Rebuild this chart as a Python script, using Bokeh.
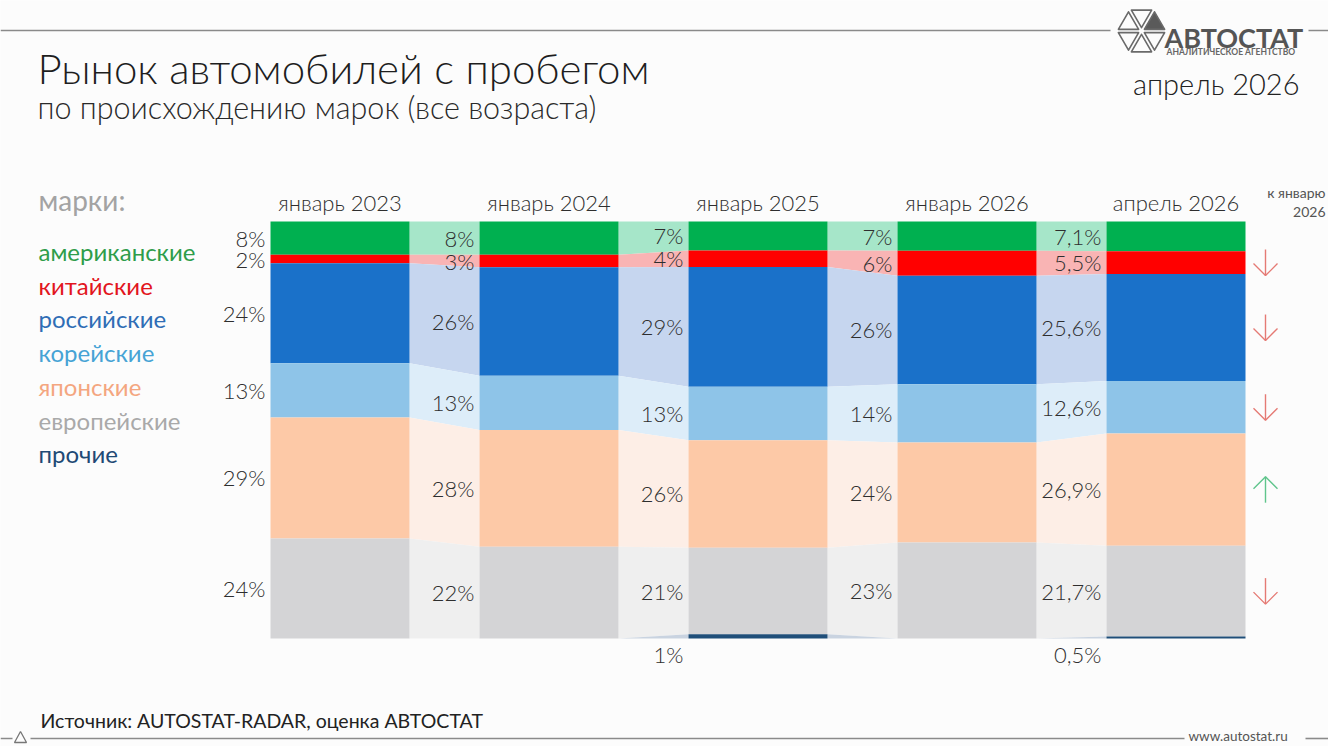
from bokeh.plotting import figure
from bokeh.models import ColumnDataSource, Range1d
from bokeh.embed import file_html
from bokeh.resources import INLINE
from bokeh.core.properties import value

# ---------------- data ----------------
periods = ["январь 2023", "январь 2024", "январь 2025", "январь 2026", "апрель 2026"]
brands = ["американские", "китайские", "российские", "корейские",
          "японские", "европейские", "прочие"]
american = [8, 8, 7, 7, 7.1]
chinese = [2, 3, 4, 6, 5.5]
russian = [24, 26, 29, 26, 25.6]
korean = [13, 13, 13, 14, 12.6]
japanese = [29, 28, 26, 24, 26.9]
european = [24, 22, 21, 23, 21.7]
others = [0, 0, 1, 0, 0.5]
# change of апрель 2026 vs январь 2026 shown with arrows
trend = [None, "down", "down", "down", "up", "down", None]

series = [american, chinese, russian, korean, japanese, european, others]

# ---------------- styles ----------------
bar_colors = ["#00b050", "#ff0000", "#1a71c9", "#8ec4e8", "#fdc9a7", "#d4d4d6", "#1f4e79"]
band_colors = ["#a6e6c9", "#f9b4b4", "#c6d6ef", "#ddedf9", "#fdeee6", "#efefef", "#c9d3e0"]
legend_colors = ["#2e9d4a", "#e2151d", "#2f6db5", "#46a3d5", "#f4a680", "#a9a9a9", "#1f4a75"]
FONT = value("Lato")
LIGHT = value("Lato Light")
TXT = "#333333"

W, H = 1328, 746
PX_X = 209.0          # pixels per bar step
PX_Y = 4.17           # pixels per percent
BAR_W = 139 / PX_X
X_START = -339.5 / PX_X
X_END = X_START + W / PX_X
Y_TOP = 100 + 221 / PX_Y
Y_BOT = Y_TOP - H / PX_Y


def fx(px):
    return X_START + px / PX_X


def fy(py):
    return Y_TOP - py / PX_Y


p = figure(width=W, height=H, output_backend="svg", toolbar_location=None,
           x_range=Range1d(X_START, X_END), y_range=Range1d(Y_BOT, Y_TOP),
           min_border=0, outline_line_color=None,
           background_fill_color="#fcfcfc", border_fill_color="#fcfcfc")
p.axis.visible = False
p.grid.visible = False

n = len(periods)
xs_idx = list(range(n))
totals = [sum(s[i] for s in series) for i in range(n)]

# stacked from the top: american first
tops, bots = [], []
cum = [100.0] * n
for s in series:
    t = list(cum)
    b = [cum[i] - s[i] * 100.0 / totals[i] for i in range(n)]
    tops.append(t)
    bots.append(b)
    cum = b

# connecting bands
for k, s in enumerate(series):
    bx, by = [], []
    for i in range(n - 1):
        xr = i + BAR_W / 2
        xl = i + 1 - BAR_W / 2
        bx.append([xr, xl, xl, xr])
        by.append([tops[k][i], tops[k][i + 1], bots[k][i + 1], bots[k][i]])
    p.patches(bx, by, fill_color=band_colors[k], line_color=None)

# bars
for k, s in enumerate(series):
    src = ColumnDataSource(dict(x=xs_idx, top=tops[k], bottom=bots[k]))
    p.vbar(x="x", width=BAR_W, top="top", bottom="bottom", source=src,
           fill_color=bar_colors[k], line_color=None)


def fmt(v):
    return (("%g" % v).replace(".", ",")) + "%"


# value labels, right-aligned at the left edge of each bar
lx, ly, lt = [], [], []
for k, s in enumerate(series[:-1]):
    for i in range(n):
        lx.append(i - BAR_W / 2)
        ly.append((tops[k][i] + bots[k][i]) / 2)
        lt.append(fmt(s[i]))
for i in range(n):
    if others[i] > 0:
        lx.append(i - BAR_W / 2)
        ly.append(bots[-1][i] - 16 / PX_Y)
        lt.append(fmt(others[i]))
p.text(x=lx, y=ly, text=lt, text_font=LIGHT, text_font_size="22px",
       text_align="right", text_baseline="middle", text_color="#2e2e2e", x_offset=-5)

# period headers
p.text(x=xs_idx, y=[fy(202)] * n, text=periods, text_font=LIGHT,
       text_font_size="22px", text_align="center", text_baseline="middle",
       text_color="#2e2e2e")

# trend arrows
ax = n - 1 + BAR_W / 2 + 20 / PX_X
half = 13 / PX_Y
hw = 12 / PX_X
hl = 12 / PX_Y
for k, tr in enumerate(trend):
    if tr is None:
        continue
    mid = (tops[k][-1] + bots[k][-1]) / 2
    if tr == "down":
        tip, col, d = mid - half, "#e57a74", 1
    else:
        tip, col, d = mid + half, "#5fc58c", -1
    p.multi_line([[ax, ax], [ax - hw, ax, ax + hw]],
                 [[mid - half, mid + half], [tip + d * hl, tip, tip + d * hl]],
                 line_color=col, line_width=1.4)

p.text(x=[fx(1325), fx(1325)], y=[fy(192), fy(211)], text=["к январю", "2026"],
       text_font=FONT, text_font_size="14px", text_align="right",
       text_baseline="middle", text_color="#555555")

# legend
p.text(x=[fx(38)], y=[fy(199)], text=["марки:"], text_font=FONT,
       text_font_size="28px", text_baseline="middle", text_color="#a3a3a3")
p.text(x=[fx(38)] * len(brands), y=[fy(251 + 33.7 * k) for k in range(len(brands))],
       text=brands, text_font=FONT, text_font_size="24px", text_baseline="middle",
       text_color=legend_colors)

# titles
p.text(x=[fx(37)], y=[fy(67)], text=["Рынок автомобилей с пробегом"], text_font=LIGHT,
       text_font_size="42px", text_baseline="middle", text_color="#1e1e1e")
p.text(x=[fx(37)], y=[fy(106)], text=["по происхождению марок (все возраста)"],
       text_font=LIGHT, text_font_size="30.5px", text_baseline="middle",
       text_color="#2a2a2a")
p.text(x=[fx(1299)], y=[fy(83)], text=["апрель 2026"], text_font=LIGHT,
       text_font_size="29px", text_align="right", text_baseline="middle",
       text_color="#222222")

# header / footer rules
p.segment(x0=[fx(0), fx(1308)], y0=[fy(30), fy(30)], x1=[fx(1110), fx(1328)],
          y1=[fy(30), fy(30)], line_color="#8a8a8a", line_width=1.6)
p.segment(x0=[fx(0), fx(30), fx(1305)], y0=[fy(738)] * 3,
          x1=[fx(12), fx(1184), fx(1328)], y1=[fy(738)] * 3,
          line_color="#8a8a8a", line_width=1.6)
p.patches([[fx(14), fx(26), fx(20)]], [[fy(742), fy(742), fy(731)]],
          fill_color=None, line_color="#777777", line_width=1.3)

# logo
cx, cy, r = 1141.0, 30.5, 26.0
hh = r * 0.866
tri_px = [
    [(cx - r, cy), (cx - r / 2, cy - hh), (cx, cy)],
    [(cx - r / 2, cy - hh), (cx + r / 2, cy - hh), (cx, cy)],
    [(cx, cy), (cx + r / 2, cy - hh), (cx + r, cy)],
    [(cx - r, cy), (cx - r / 2, cy + hh), (cx, cy)],
    [(cx - r / 2, cy + hh), (cx + r / 2, cy + hh), (cx, cy)],
    [(cx, cy), (cx + r / 2, cy + hh), (cx + r, cy)],
]
lxs, lys, fills = [], [], []
for j, tri in enumerate(tri_px):
    gx = sum(t[0] for t in tri) / 3
    gy = sum(t[1] for t in tri) / 3
    lxs.append([fx(gx + (t[0] - gx) * 0.78) for t in tri])
    lys.append([fy(gy + (t[1] - gy) * 0.78) for t in tri])
    fills.append("#5a5a5a" if j == 2 else "#fcfcfc")
p.patches(lxs, lys, fill_color=fills,
          line_color="#6a6a6a", line_width=1.6, line_join="round")
p.text(x=[fx(1164)], y=[fy(37)], text=["АВТОСТАТ"], text_font=FONT,
       text_font_size="27px", text_font_style="bold", text_baseline="middle",
       text_color="#555555")
p.text(x=[fx(1166)], y=[fy(51)], text=["АНАЛИТИЧЕСКОЕ АГЕНТСТВО"], text_font=FONT,
       text_font_size="8.5px", text_font_style="bold", text_baseline="middle",
       text_color="#666666")

# footer texts
p.text(x=[fx(40)], y=[fy(720)], text=["Источник: AUTOSTAT-RADAR, оценка АВТОСТАТ"],
       text_font=FONT, text_font_size="19.5px", text_baseline="middle",
       text_color="#222222")
p.text(x=[fx(1188)], y=[fy(735)], text=["www.autostat.ru"], text_font=FONT,
       text_font_size="13.5px", text_baseline="middle", text_color="#555555")

open("out.html", "w").write(file_html(p, INLINE))
